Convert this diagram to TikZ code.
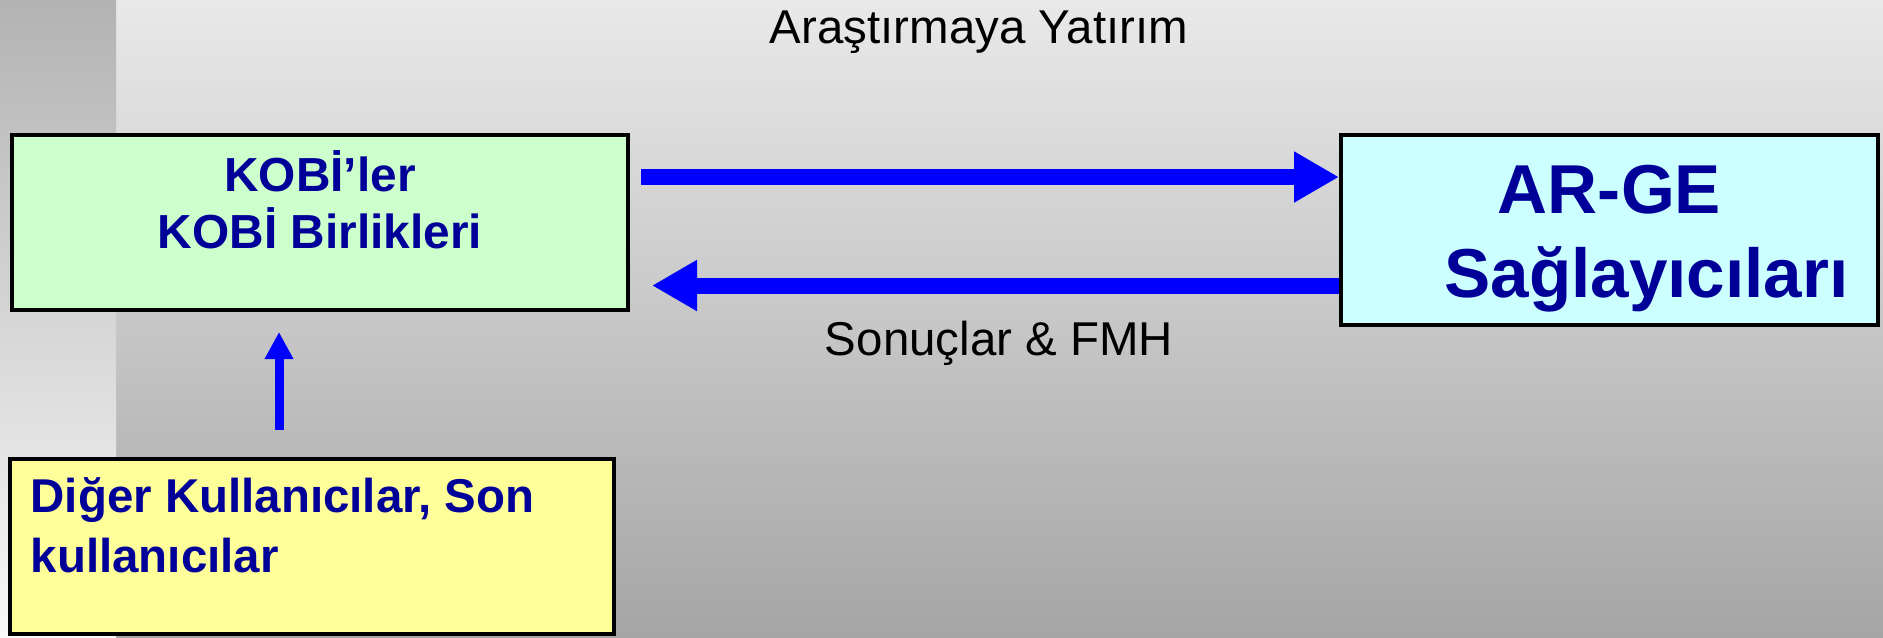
\documentclass[tikz,border=0pt]{standalone}
\usepackage{fontspec}
\setmainfont{Liberation Sans}
\usetikzlibrary{arrows.meta}

\definecolor{bgtop}{HTML}{E9E9E9}
\definecolor{bgbot}{HTML}{A5A5A5}
\definecolor{striptop}{HTML}{B3B3B3}
\definecolor{stripmid}{HTML}{E6E6E6}
\definecolor{stripbot}{HTML}{F8F8F8}
\definecolor{kobigreen}{HTML}{CCFFCC}
\definecolor{argecyan}{HTML}{CCFFFF}
\definecolor{digeryellow}{HTML}{FFFF99}
\definecolor{navytxt}{HTML}{000099}
\definecolor{arrowblue}{HTML}{0000FF}

\begin{document}
\begin{tikzpicture}[
            box/.style={draw=black, line width=0.04cm, inner sep=0pt},
            txt/.style={text=navytxt, align=center, inner sep=0pt, font={\bfseries\fontsize{13.6pt}{16.2pt}\selectfont}},
            lbl/.style={text=black, font={\fontsize{13.5pt}{16pt}\selectfont}},
            bigarrow/.style={-{Triangle[length=0.45cm, width=0.48cm]}, draw=arrowblue, line width=0.16cm},
            uparrow/.style={-{Triangle[length=0.27cm, width=0.27cm]}, draw=arrowblue, line width=0.09cm}
        ]
        \useasboundingbox (0,0) rectangle (18.83,-6.37);
        % background: grey slide, lighter strip on the left
        \shade[top color=bgtop, bottom color=bgbot] (1.16,0) rectangle (18.83,-6.37);
        \shade[top color=striptop, middle color=stripmid, bottom color=stripbot] (0,0) rectangle (1.16,-6.37);

        % boxes, then the text inside them (base = baseline of the last line)
        \node[box, fill=kobigreen, minimum width=6.16cm, minimum height=1.75cm] (kobi) at (3.20,-2.225) {};
        \node[txt, anchor=base] (kobitxt) at (3.20,-2.48) {KOBİ’ler\\KOBİ Birlikleri};

        \node[box, fill=argecyan, minimum width=5.37cm, minimum height=1.90cm] (arge) at (16.095,-2.30) {};
        \node[txt, anchor=base, font={\bfseries\fontsize{19.7pt}{23.9pt}\selectfont}] (argetxt) at (16.095,-2.97) {AR-GE\\\hspace*{0.74cm}Sağlayıcıları};

        \node[box, fill=digeryellow, minimum width=6.04cm, minimum height=1.75cm] (diger) at (3.12,-5.465) {};
        \node[txt, align=left, anchor=base west, font={\bfseries\fontsize{13.5pt}{16.8pt}\selectfont}] (digertxt) at (0.30,-5.72) {Diğer Kullanıcılar, Son\\kullanıcılar};

        % labels of the two flows
        \node[lbl, anchor=base] (invest) at (9.79,-0.43) {Araştırmaya Yatırım};
        \node[lbl, anchor=base] (results) at (9.99,-3.55) {Sonuçlar \& FMH};

        % arrows between the boxes
        \coordinate (r1) at ([xshift=0.11cm, yshift=0.455cm]kobi.east);
        \coordinate (r2) at ([yshift=-0.555cm]arge.west);
        \draw[bigarrow] (r1) -- (r1 -| arge.west);
        \draw[bigarrow, shorten >=0.22cm] (r2) -- (r2 -| kobi.east);
        \draw[uparrow, shorten <=0.27cm, shorten >=0.20cm] ([xshift=-0.33cm]diger.north) -- ([xshift=-0.33cm]diger.north |- kobi.south);
    \end{tikzpicture}
\end{document}
